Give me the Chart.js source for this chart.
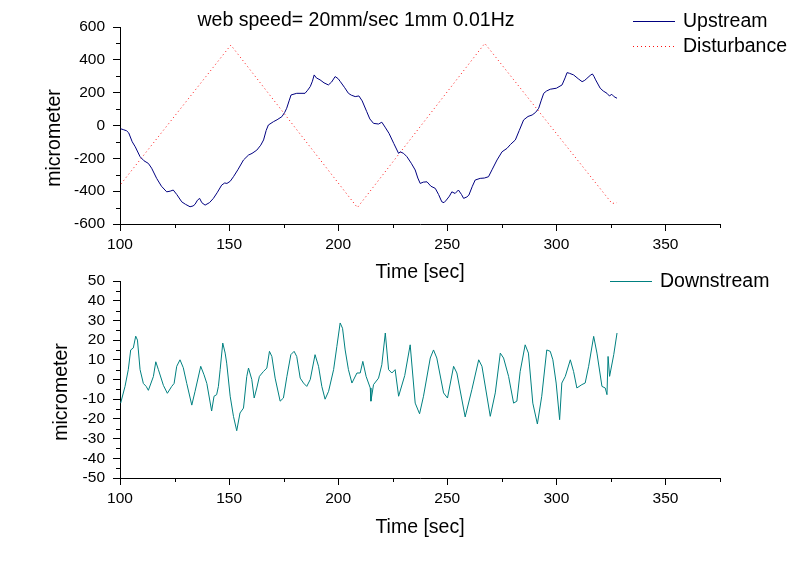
<!DOCTYPE html>
<html>
<head>
<meta charset="utf-8">
<title>web speed chart</title>
<script src="https://cdn.jsdelivr.net/npm/chart.js@4.4.1/dist/chart.umd.min.js"></script>
<style>
    body { margin: 0; background: #fff; width: 800px; height: 562px; position: relative; overflow: hidden; }
    canvas { position: absolute; left: 0; }
    #topChart { top: 0; }
    #bottomChart { top: 254px; }
</style>
</head>
<body>
<canvas id="topChart" width="800" height="290"></canvas>
<canvas id="bottomChart" width="800" height="308"></canvas>
<script>
    var chartTitle = 'web speed= 20mm/sec 1mm 0.01Hz';
    var xTicks = [100, 150, 200, 250, 300, 350];
    var xMinor = [125, 175, 225, 275, 325, 375];
    var topYTicks = [-600, -400, -200, 0, 200, 400, 600];
    var topYMinor = [-500, -300, -100, 100, 300, 500];
    var bottomYTicks = [-50, -40, -30, -20, -10, 0, 10, 20, 30, 40, 50];
    var bottomYMinor = [-45, -35, -25, -15, -5, 5, 15, 25, 35, 45];

    // Upstream (time, micrometer)
    var upTime = [100.3, 101.5, 103, 104, 105.6, 107, 109.2, 111, 113, 114.5, 116.8, 119, 121.4, 123, 124.4,
        126, 128.3, 130, 132.1, 133.5, 134.4, 135.5, 136.5, 137.5, 139, 141, 142.8, 144.5, 146.6, 148, 149,
        150.5, 152, 154, 156.6, 158.9, 160.5, 162.7, 164.5, 165.8, 167, 168, 170.3, 172, 174.2, 175.5, 176.4,
        177.5, 178.4, 181, 184.8, 186, 187.2, 188.2, 189, 190, 191.7, 193.5, 195.5, 197, 198.6, 200, 201,
        203, 204.7, 206, 207.8, 209.5, 211, 213.1, 214.5, 216.2, 218.5, 220, 221.5, 223.3, 225.5, 227.7,
        228.4, 230, 231.5, 233.5, 235.3, 236.5, 237.6, 239, 240.7, 242.5, 244.5, 246, 247.5, 248.5, 249.6,
        251, 252.1, 253.6, 255.1, 256.5, 257.5, 259, 259.9, 261.5, 262.8, 265.1, 267, 268.9, 270.5, 272.8,
        275.1, 277.4, 279, 281.2, 283, 285, 287, 288.9, 290.5, 291.9, 293, 294.2, 295.5, 297.2, 300, 302.6,
        304, 304.9, 306, 307.9, 310, 311.8, 313, 314, 315.5, 316.5, 317.2, 318, 320.1, 321.5, 323.2, 324.3,
        325.4, 326.5, 327.8];
    var upValues = [-20, -25, -32, -45, -99, -130, -190, -215, -231, -260, -322, -370, -404, -400, -393,
        -420, -465, -480, -495, -490, -480, -455, -444, -470, -485, -470, -444, -410, -363, -350, -353,
        -340, -312, -270, -210, -180, -170, -150, -120, -88, -30, 3, 23, 35, 54, 80, 105,
        150, 186, 196, 196, 215, 237, 270, 308, 290, 278, 260, 247, 265, 298, 285, 267,
        230, 196, 185, 176, 180, 150, 84, 40, 13, 9, 20, -10, -48, -110, -170,
        -160, -170, -190, -230, -271, -320, -353, -345, -343, -370, -383, -420, -465, -470, -454,
        -430, -404, -414, -393, -420, -444, -435, -424, -370, -332, -322, -320, -312, -270, -210,
        -160, -139, -115, -88, -30, 34, 55, 64, 80, 105, 150, 196, 210, 221, 227, 247,
        290, 322, 318, 308, 285, 267, 275, 287, 305, 314, 300, 278, 227, 210, 196, 180,
        190, 175, 166];

    // Disturbance (triangle corners)
    var distTime = [100.5, 150.8, 208.8, 267.2, 325.5, 327.8];
    var distValues = [-355, 490, -500, 500, -475, -470];

    // Downstream (time, micrometer)
    var downTime = [100.3, 102.3, 103.8, 104.9, 106.1, 107.2, 108, 109.2, 110.7, 112, 113, 115.3, 116.4,
        117.6, 119.9, 121.7, 123.7, 124.8, 126, 127.5, 129, 130.6, 132.9, 134.4, 137, 138.5, 139.8, 142,
        143.1, 144.3, 145.1, 145.9, 147.1, 148.2, 148.9, 150.5, 152, 153.5, 155, 156.6, 158.1, 158.9,
        160.4, 161.5, 162.7, 163.9, 165.7, 167.3, 168.5, 169.6, 171.1, 173.4, 174.9, 176.5, 178.3, 179.8,
        181, 182.6, 184.1, 185.6, 187.2, 189.4, 191, 192.5, 194, 195.6, 197.9, 199.4, 200.9, 202, 203.2,
        204.7, 206.3, 208.6, 210.1, 211.3, 212.8, 214.7, 215, 216.2, 218.5, 220, 221.6, 223.1, 224.6,
        226.1, 227.7, 230.5, 233, 235.3, 237.3, 239.1, 242.2, 243.7, 245.2, 248.3, 250.1, 252.9, 254.4,
        258.2, 261.3, 264.4, 265.9, 269.7, 272, 274.3, 275.8, 278.1, 280.4, 281.9, 283.4, 285.7, 287.2,
        289.2, 291.3, 293.3, 295.6, 297.2, 298.4, 299.9, 301.5, 302.5, 304.1, 306.4, 307.9, 309.4, 311.7,
        313.2, 314.8, 317.1, 318.6, 320.9, 322.4, 323.2, 323.7, 324.4, 326.3, 327.8];
    var downValues = [-12, -3.5, 5, 15, 16, 22, 20, 5, -2, -3.5, -5.5, 1.5, 9,
        5, -3, -7, -3.5, -2, 6.7, 10, 6, -2, -13, -6, 6.7, 2.4, -2, -16,
        -8.5, -7.7, -3.5, 5, 18.5, 13.4, 8.3, -8.5, -18.7, -26, -17, -14.5, 1.5, 5.8,
        0, -9.4, -4.3, 1.6, 4, 5.8, 14.3, 11.7, 0.7, -11, -9.4, 1.6, 12.6, 14.3,
        11.7, 0.7, -1.8, -3.5, 0, 12.6, 6.7, -3.5, -10, -6, 5, 16.8, 28.7, 26, 15,
        5, -1.8, 3.3, 3.3, 9.2, 1.6, -4.3, -11, -2.6, 0.7, 7.5, 23.6, 5, 3.3,
        5, -8.5, 2, 17.6, -12, -17.4, -8.5, 10.9, 15, 10.9, -6.8, -9.4, 6.7, 3.3,
        -19, -5, 10, 6.7, -18.7, -6.8, 13.4, 10.9, 1.6, -12, -11, 4, 17.6, 13.4,
        -12, -22.6, -8.5, 15, 14.3, 10, -1.8, -20.4, -1.8, 1.6, 10, 4, -4.3, -2.6,
        -1.8, 6.7, 21.9, 13.4, -3.5, -4.3, -7.7, 11.7, 1.6, 12.6, 23.6];

    var FONT = "'Liberation Sans', Arial, sans-serif";
    Chart.defaults.font.family = FONT;
    Chart.defaults.color = '#000';

    function toPoints(xs, ys) {
        return xs.map(function (x, i) { return { x: x, y: ys[i] }; });
    }

    function setTicks(values) {
        return function (scale) {
            scale.ticks = values.map(function (v) { return { value: v }; });
        };
    }

    // minor ticks, rotated y title, legend and title
    var extrasPlugin = {
        id: 'extras',
        afterDraw: function (chart, args, opts) {
            var ctx = chart.ctx;
            var xs = chart.scales.x, ys = chart.scales.y;
            ctx.save();
            ctx.strokeStyle = '#000';
            ctx.lineWidth = 1;
            opts.minorX.forEach(function (v) {
                var px = Math.round(xs.getPixelForValue(v)) + 0.5;
                ctx.beginPath();
                ctx.moveTo(px, xs.top);
                ctx.lineTo(px, xs.top + 4);
                ctx.stroke();
            });
            opts.minorY.forEach(function (v) {
                var py = Math.round(ys.getPixelForValue(v)) + 0.5;
                ctx.beginPath();
                ctx.moveTo(ys.right, py);
                ctx.lineTo(ys.right - 4, py);
                ctx.stroke();
            });

            ctx.fillStyle = '#000';
            ctx.font = '19.5px ' + FONT;
            ctx.textBaseline = 'middle';

            // y axis title
            ctx.save();
            ctx.translate(opts.yTitleX, opts.yTitleY);
            ctx.rotate(-Math.PI / 2);
            ctx.textAlign = 'center';
            ctx.fillText(opts.yTitle, 0, 0);
            ctx.restore();

            // legend
            ctx.textAlign = 'left';
            chart.data.datasets.forEach(function (ds, i) {
                var y = opts.legendY + i * 25;
                ctx.save();
                ctx.strokeStyle = ds.borderColor;
                ctx.setLineDash(ds.borderDash || []);
                ctx.beginPath();
                ctx.moveTo(opts.legendX, Math.round(y) + 0.5);
                ctx.lineTo(opts.legendX + 42, Math.round(y) + 0.5);
                ctx.stroke();
                ctx.restore();
                ctx.fillText(ds.label, opts.legendX + 50, y + 0.5);
            });

            if (opts.title) {
                ctx.textAlign = 'center';
                ctx.fillText(opts.title, opts.titleX, opts.titleY);
            }
            ctx.restore();
        }
    };

    function makeOptions(yMin, yMax, yTicks, yMinor, xTitlePad, extras) {
        extras.minorX = xMinor;
        extras.minorY = yMinor;
        return {
            responsive: false,
            animation: false,
            layout: { padding: { left: 0, top: 27, right: 80, bottom: 0 } },
            elements: { point: { radius: 0 }, line: { borderWidth: 1, tension: 0 } },
            scales: {
                x: {
                    type: 'linear',
                    min: 100,
                    max: 375,
                    afterBuildTicks: setTicks(xTicks),
                    afterFit: function (scale) { scale.height = scale.chart.height - 224; },
                    grid: { drawOnChartArea: false, color: '#000', tickLength: 7 },
                    border: { color: '#000' },
                    ticks: {
                        padding: 4,
                        maxRotation: 0,
                        autoSkip: false,
                        font: { size: 15.5 },
                        callback: function (v) { return String(v); }
                    },
                    title: {
                        display: true,
                        text: 'Time [sec]',
                        font: { size: 19.5 },
                        padding: { top: 0, bottom: xTitlePad }
                    }
                },
                y: {
                    min: yMin,
                    max: yMax,
                    afterBuildTicks: setTicks(yTicks),
                    afterFit: function (scale) { scale.width = 120; },
                    grid: { drawOnChartArea: false, color: '#000', tickLength: 7 },
                    border: { color: '#000' },
                    ticks: {
                        padding: 8,
                        autoSkip: false,
                        font: { size: 15.5 },
                        callback: function (v) { return String(v); }
                    }
                }
            },
            plugins: {
                legend: { display: false },
                tooltip: { enabled: false },
                extras: extras
            }
        };
    }

    var topChart = new Chart(document.getElementById('topChart'), {
        type: 'line',
        data: {
            datasets: [{
                label: 'Upstream',
                data: toPoints(upTime, upValues),
                borderColor: '#000080',
                order: 0
            }, {
                label: 'Disturbance',
                data: toPoints(distTime, distValues),
                borderColor: '#ff1010',
                borderDash: [1, 3],
                order: 1
            }]
        },
        options: makeOptions(-600, 600, topYTicks, topYMinor, 6, {
            yTitle: 'micrometer', yTitleX: 55, yTitleY: 138,
            legendX: 633, legendY: 21,
            title: chartTitle, titleX: 356, titleY: 21
        }),
        plugins: [extrasPlugin]
    });

    var bottomChart = new Chart(document.getElementById('bottomChart'), {
        type: 'line',
        data: {
            datasets: [{
                label: 'Downstream',
                data: toPoints(downTime, downValues),
                borderColor: '#008080'
            }]
        },
        options: makeOptions(-50, 50, bottomYTicks, bottomYMinor, 23, {
            yTitle: 'micrometer', yTitleX: 62, yTitleY: 138,
            legendX: 610, legendY: 27,
            title: null
        }),
        plugins: [extrasPlugin]
    });
</script>
</body>
</html>
